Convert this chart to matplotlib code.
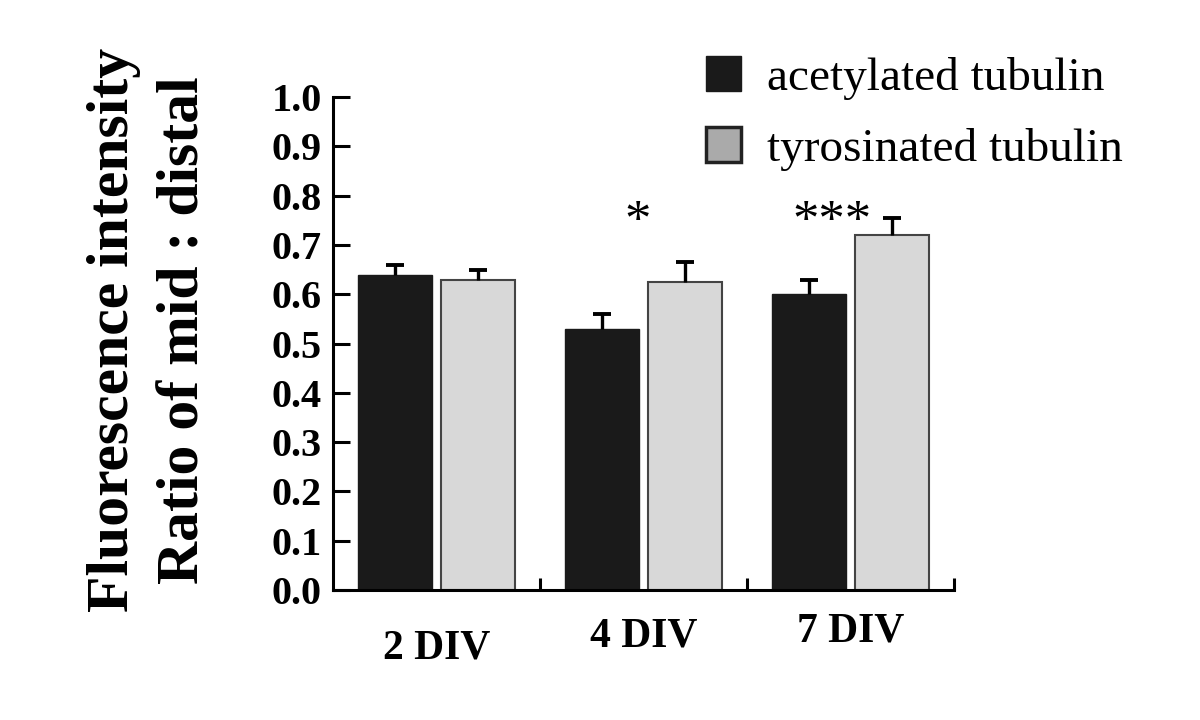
import numpy as np
import matplotlib
matplotlib.use('Agg')
import matplotlib.pyplot as plt
from matplotlib.patches import Patch

plt.rcParams['font.family'] = ['Liberation Serif', 'DejaVu Serif']

groups = ['2 DIV', '4 DIV', '7 DIV']
acetylated = [0.64, 0.53, 0.60]
acetylated_err = [0.02, 0.03, 0.03]
tyrosinated = [0.63, 0.625, 0.72]
tyrosinated_err = [0.02, 0.04, 0.035]
stars = ['', '*', '***']
series_names = ['acetylated tubulin', 'tyrosinated tubulin']
yticks = [0.0, 0.1, 0.2, 0.3, 0.4, 0.5, 0.6, 0.7, 0.8, 0.9, 1.0]

fig = plt.figure(figsize=(12, 7.2), dpi=100)
ax = fig.add_axes([0.2775, 0.1806, 0.5175, 0.6844])

x = np.arange(len(groups))
w = 0.36
ax.bar(x - 0.2, acetylated, w, color='#1a1a1a', edgecolor='#1a1a1a', zorder=2)
ax.bar(x + 0.2, tyrosinated, w, color='#d8d8d8', edgecolor='#444444',
       linewidth=1.5, zorder=2)

# upper-only error bars: stem from bar top, cap at the end
for xs, vals, errs in [(x - 0.2, acetylated, acetylated_err),
                       (x + 0.2, tyrosinated, tyrosinated_err)]:
    vals = np.array(vals)
    errs = np.array(errs)
    ax.errorbar(xs, vals, yerr=[np.zeros(len(errs)), errs], fmt='none',
                ecolor='black', elinewidth=2.4, capsize=0, zorder=3)
    ax.plot(xs, vals + errs, ls='none', marker='_', ms=13, mew=2.8,
            color='black', zorder=3)

# significance marks over each group
for i, s in enumerate(stars):
    if s:
        ax.text(i - 0.03 * len(s), 0.745, s, ha='center', va='center',
                fontsize=38, color='black')

ax.set_xlim(-0.5, 2.5)
ax.set_ylim(0, 1.0)
ax.set_yticks(yticks)
ax.set_yticklabels(['%.1f' % v for v in yticks], fontsize=29, fontweight='bold')
ax.tick_params(axis='y', direction='in', length=12, width=2.2, pad=8)
ax.set_xticks([0.5, 1.5, 2.5])
ax.set_xticklabels([])
ax.tick_params(axis='x', direction='in', length=9, width=2.2)

# group labels, slightly staggered as in the original
label_y = [-0.118, -0.095, -0.085]
for i, g in enumerate(groups):
    ax.text(i, label_y[i], g, ha='center', va='center', fontsize=30,
            fontweight='bold', clip_on=False)

for side in ['top', 'right']:
    ax.spines[side].set_visible(False)
for side in ['left', 'bottom']:
    ax.spines[side].set_linewidth(2.2)

fig.text(0.1245, 0.542, 'Fluorescence intensity\nRatio of mid : distal',
         rotation=90, ha='center', va='center', multialignment='center',
         fontsize=43, fontweight='bold', linespacing=1.4)

handles = [Patch(facecolor='#1a1a1a', edgecolor='#1a1a1a'),
           Patch(facecolor='#aaaaaa', edgecolor='#222222', linewidth=2.5)]
fig.legend(handles, series_names, loc='upper left', bbox_to_anchor=(0.588, 0.922),
           frameon=False, fontsize=34, handlelength=0.76, handleheight=0.76,
           handletextpad=0.55, labelspacing=0.58, borderpad=0, borderaxespad=0)

fig.savefig('out.png', dpi=100)
